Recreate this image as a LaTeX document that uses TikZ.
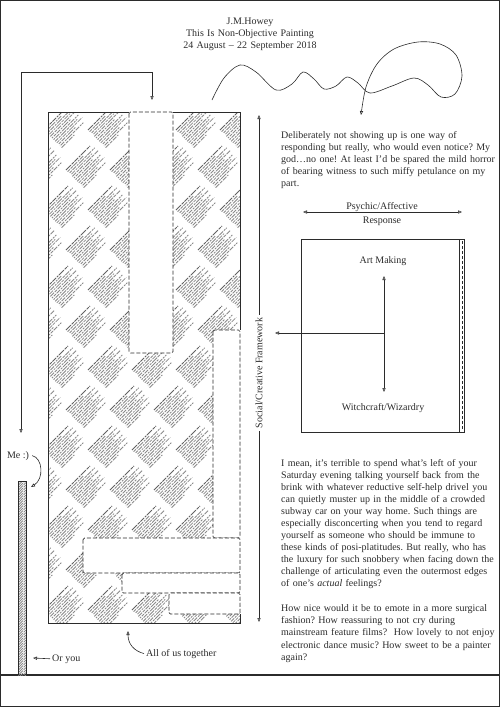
\documentclass[tikz,border=0pt]{standalone}
\usepackage{fontspec}
\setmainfont{Liberation Serif}
\usepackage{xcolor}
\definecolor{cInk}{HTML}{2B2B2B}
\definecolor{cHatch}{HTML}{8A8A8A}
\usetikzlibrary{arrows.meta,calc}
\tikzset{
  frame-line/.style={draw=cInk,line width=1.2pt},
  ink-line/.style={draw=cInk,line width=0.6pt},
  arrow/.style={-{Triangle[open,length=4pt,width=3.2pt]},ink-line},
  arrow-both/.style={{Triangle[open,length=4pt,width=3.2pt]}-{Triangle[open,length=4pt,width=3.2pt]},ink-line},
  gap-box/.style={fill=white,draw=cInk,line width=0.7pt,dash pattern=on 4pt off 2pt,rounded corners=1.5pt},
  hatch-line/.style={draw=cHatch,line width=0.85pt,
    dash pattern=on 7pt off 1pt on 3pt off 1pt on 5pt off 1.2pt on 2pt off 1pt},
  node-label/.style={font=\fontsize{10}{12}\selectfont,text=cInk,inner sep=0pt},
  node-para/.style={node-label,anchor=base west,text width=225pt,align=left},
}
% one rotated block of "printed" strokes, #1,#2 = start of its first stroke
\newcommand\hatchblock[2]{%
  \draw[hatch-line,draw=cHatch!70!black] (#1,#2) -- ++(0.7071*34,-0.7071*34);
  \foreach \k/\len [evaluate=\k as \ph using {mod(\k*3.7,13)}]
      in {1/22,2/36,3/30,4/37,5/26,6/35,7/31,8/36,9/24,10/33,11/18}
    \draw[hatch-line,dash phase=\ph pt] (#1+1.6*\k,#2+1.6*\k) -- ++(0.7071*\len,-0.7071*\len);
}

\begin{document}
\begin{tikzpicture}[x=1pt,y=-1pt]
  \frenchspacing
  \useasboundingbox (0,0) rectangle (500,707);
  \draw[frame-line] (0.6,0.6) rectangle (499.4,706.4);
  \draw[frame-line] (0,675) -- (500,675);

  \node[node-label,text width=200pt,align=center,anchor=base] (title) at (250,24)
    {J.M.Howey\\This Is Non-Objective Painting\\24 August – 22 September 2018};

  % the big printed block
  \begin{scope}
    \clip (48,112) rectangle (240,623);
    \foreach \cy [count=\r] in {90,130,...,650} {
      \pgfmathsetmacro\sh{mod(\r,2)*22}
      \foreach \cx in {0,44,...,264} {\hatchblock{\cx+\sh}{\cy}}
    }
  \end{scope}
  \draw[gap-box] (129,112) rectangle (173,353);
  \draw[gap-box] (213,330) rectangle (240,538);
  \draw[gap-box] (83,538) rectangle (240,573);
  \draw[gap-box] (122,573) rectangle (240,593);
  \draw[gap-box] (169,593) rectangle (240,614);
  \draw[ink-line] (173,112) -- (240,112) -- (240,330);
  \draw[ink-line] (240,614) -- (240,623) -- (48,623) -- (48,112) -- (129,112);

  % thin strip
  \begin{scope}
    \clip (18,481) rectangle (26,675);
    \foreach \y in {475,477.5,...,690} \draw[hatch-line] (18,\y+8) -- (26,\y);
  \end{scope}
  \draw[ink-line] (18,675) -- (18,481) -- (26,481) -- (26,675);

  \coordinate (loop-a) at (21,433);
  \coordinate (loop-b) at (152,100);
  \draw[arrow-both] (loop-a) |- (152,72) -- (loop-b);

  \draw[arrow] plot[smooth,tension=0.55] coordinates {(212,100) (224,78) (240,65) (256,72)
    (276,90) (292,84) (303,72) (314,79) (324,89) (336,86) (347,77) (358,83) (370,93)
    (392,86) (414,78) (428,85) (441,97) (455,94) (462,76) (456,55) (440,44) (418,42)
    (394,49) (377,64) (366,87) (361,115)};

  \node[node-label,anchor=base] (me) at (18,458) {Me :)};
  \coordinate (me-tip) at (31,487);
  \draw[arrow] ([xshift=3pt]me.east) .. controls (43,458) and (44,479) .. (me-tip);

  \node[node-label,anchor=base west] (oryou) at (52,661) {Or you};
  \coordinate (strip-pt) at (33,658);
  \draw[arrow] ([xshift=-2pt]oryou.west) -- (strip-pt);

  \node[node-label,anchor=base west] (allus) at (146,656) {All of us together};
  \coordinate (block-pt) at (128,631);
  \draw[arrow] ([xshift=-2pt]allus.west) .. controls (134,651) and (128,644) .. (block-pt);

  % framework axis
  \node[node-label,rotate=90,inner sep=3pt] (framework) at (259,373) {Social/Creative Framework};
  \coordinate (fw-top) at (259,115);
  \coordinate (fw-bot) at (259,622);
  \draw[arrow] (framework) -- (fw-top);
  \draw[arrow] (framework) -- (fw-bot);

  \node[node-para] (para1) at (281,138) {Deliberately not showing up is one way of\\
    responding but really, who would even notice? My\\
    god…no one! At least I’d be spared the mild horror\\
    of bearing witness to such miffy petulance on my\\
    part.};

  \node[node-label,anchor=base] (psychic) at (382,209) {Psychic/Affective};
  \node[node-label,anchor=base] (response) at (382,223) {Response};
  \coordinate (resp-l) at (303,212);
  \coordinate (resp-r) at (462,212);
  \draw[arrow-both] (resp-l) -- (resp-r);

  \node[ink-line,anchor=north west,inner sep=0pt,minimum width=163pt,minimum height=193pt] (panel) at (301,239) {};
  \draw[ink-line] ($(panel.north east)+(-5,0)$) -- ($(panel.south east)+(-5,0)$);
  \draw[ink-line,dash pattern=on 3pt off 2pt] ($(panel.north east)+(-2.5,2)$) -- ($(panel.south east)+(-2.5,-2)$);

  \node[node-label,anchor=base] (art) at (383,263) {Art Making};
  \node[node-label,anchor=base] (witch) at (383,410) {Witchcraft/Wizardry};
  \coordinate (axis-top) at (384,276);
  \coordinate (axis-bot) at (384,392);
  \coordinate (axis-mid) at (384,333);
  \coordinate (axis-out) at (275,333);
  \draw[arrow-both] (axis-top) -- (axis-bot);
  \draw[arrow] (axis-mid) -- (axis-out);

  \node[node-para] (para2) at (281,466) {I mean, it’s terrible to spend what’s left of your\\
    Saturday evening talking yourself back from the\\
    brink with whatever reductive self-help drivel you\\
    can quietly muster up in the middle of a crowded\\
    subway car on your way home. Such things are\\
    especially disconcerting when you tend to regard\\
    yourself as someone who should be immune to\\
    these kinds of posi-platitudes. But really, who has\\
    the luxury for such snobbery when facing down the\\
    challenge of articulating even the outermost edges\\
    of one’s \textit{actual} feelings?};

  \node[node-para,font=\fontsize{10}{12.4}\selectfont] (para3) at (281,611) {How nice would it be to emote in a more surgical\\
    fashion? How reassuring to not cry during\\
    mainstream feature films?\ \ How lovely to not enjoy\\
    electronic dance music? How sweet to be a painter\\
    again?};
\end{tikzpicture}
\end{document}
